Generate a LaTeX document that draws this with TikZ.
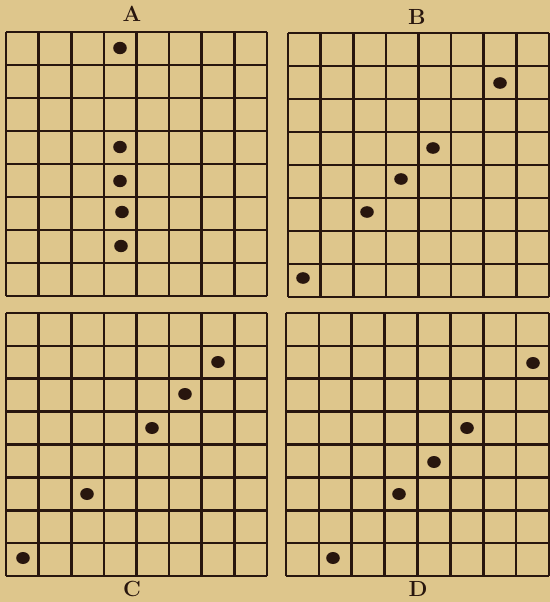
\documentclass[tikz,border=0pt]{standalone}
\definecolor{paper}{RGB}{222,198,140}
\definecolor{ink}{RGB}{40,22,14}
\newcommand\mygrid[4]{%
  \foreach \i in {0,...,8} {
    \pgfmathsetmacro\gx{#1+(#3-#1)*\i/8}
    \pgfmathsetmacro\gy{#2+(#4-#2)*\i/8}
    \draw[gridline] (\gx,#2) -- (\gx,#4);
    \draw[gridline] (#1,\gy) -- (#3,\gy);
  }%
}
\begin{document}
\begin{tikzpicture}[x=1bp,y=-1bp,
  gridline/.style={ink,line width=2.6bp,line cap=square},
  stone/.style={fill=ink},
  lab/.style={text=ink,font=\fontsize{22}{24}\selectfont\bfseries,inner sep=0pt}]
\fill[paper] (0,0) rectangle (550,602);
\useasboundingbox (0,0) rectangle (550,602);
% grids
\mygrid{6}{32}{267}{296}
\mygrid{288}{33}{549}{297}
\mygrid{6}{313}{267}{576}
\mygrid{286}{313}{549}{576}
% labels
\node[lab] (labA) at (132,14) {A};
\node[lab] (labB) at (417,17) {B};
\node[lab] (labC) at (132,589) {C};
\node[lab] (labD) at (418,589) {D};
% A
\foreach \p in {(120,48),(120,147),(120,181),(122,212),(121,246)}
  \fill[stone] \p ellipse (6.8bp and 6.2bp);
% B
\foreach \p in {(500,83),(433,148),(401,179),(367,212),(303,278)}
  \fill[stone] \p ellipse (6.8bp and 5.8bp);
% C
\foreach \p in {(218,362),(185,394),(152,428),(87,494),(23,558)}
  \fill[stone] \p ellipse (6.8bp and 6bp);
% D
\foreach \p in {(533,363),(467,428),(434,462),(399,494),(333,558)}
  \fill[stone] \p ellipse (6.8bp and 6bp);
\end{tikzpicture}
\end{document}
